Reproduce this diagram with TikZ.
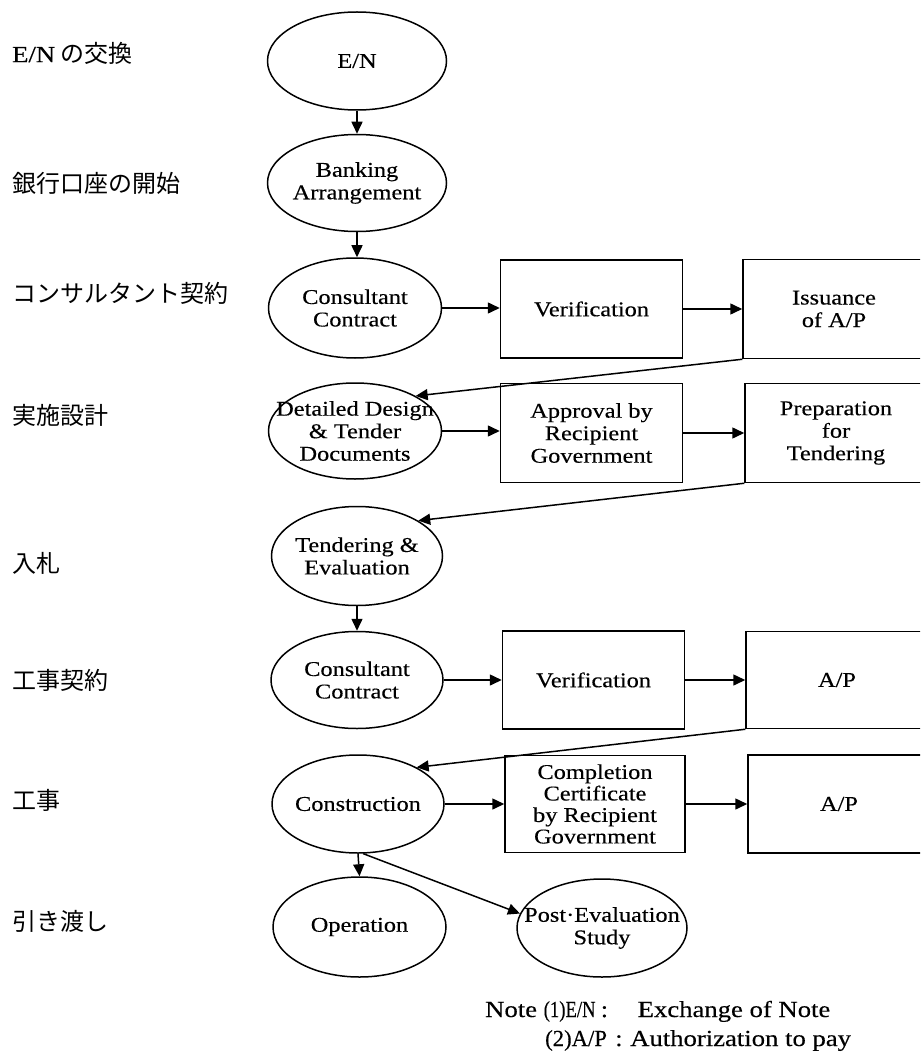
\documentclass[tikz,border=0pt]{standalone}
\usepackage{fontspec}
\usepackage{graphicx}
\setmainfont{Liberation Serif}[FakeStretch=1.16,FakeBold=0.3]
\newfontfamily\cjk{Noto Sans CJK JP}
\usetikzlibrary{shapes.geometric,arrows.meta,calc}
\begin{document}
\begin{tikzpicture}[x=1pt,y=-1pt,
  every node/.style={font=\fontsize{21}{22.5}\selectfont, align=center, inner sep=0pt},
  oval/.style={draw, ellipse, line width=1.5pt, inner xsep=-25pt, inner ysep=-12pt},
  box/.style={draw, rectangle, line width=1.5pt, minimum width=182pt},
  lab/.style={anchor=west, font=\fontsize{24}{24}\selectfont\cjk},
  note/.style={anchor=base west, font=\fontsize{23}{23}\selectfont},
  arr/.style={line width=1.5pt, -{Triangle[length=12pt,width=11pt]}},
]
\useasboundingbox (0,0) rectangle (920,1059);
\clip (0,0) rectangle (920,1059);
\fill[white] (0,0) rectangle (920,1059);

% left labels
\node[lab] (L1) at (12,53) {{\rmfamily\fontsize{23}{23}\selectfont E/N} の交換};
\node[lab] (L2) at (12,183) {銀行口座の開始};
\node[lab] (L3) at (12,293) {コンサルタント契約};
\node[lab] (L4) at (12,415) {実施設計};
\node[lab] (L5) at (12,563) {入札};
\node[lab] (L6) at (12,680) {工事契約};
\node[lab] (L7) at (12,800) {工事};
\node[lab] (L8) at (12,921) {引き渡し};

% ellipses
\node[oval, minimum width=179pt, minimum height=98pt] (EN) at (357,61) {E/N};
\node[oval, minimum width=179pt, minimum height=97pt] (BA) at (357,183) {Banking\\Arrangement};
\node[oval, minimum width=173pt, minimum height=100pt] (CC1) at (355,308) {Consultant\\Contract};
\node[oval, minimum width=173pt, minimum height=96pt] (DD) at (355,431) {Detailed Design\\\& Tender\\Documents};
\node[oval, minimum width=171pt, minimum height=99pt] (TE) at (357,556) {Tendering \&\\Evaluation};
\node[oval, minimum width=172pt, minimum height=97pt] (CC2) at (357,680) {Consultant\\Contract};
\node[oval, minimum width=172pt, minimum height=98pt] (CO) at (358,804) {Construction};
\node[oval, minimum width=173pt, minimum height=100pt] (OP) at (359.5,927) {Operation};
\node[oval, minimum width=170pt, minimum height=98pt] (PE) at (602,928) {Post·Evaluation\\Study};

% boxes
\node[box, minimum height=98pt] (V1) at (591.5,309) {Verification};
\node[box, minimum height=99pt] (IS) at (834,309) {Issuance\\of A/P};
\node[box, minimum height=99pt] (AB) at (591.5,433) {Approval by\\Recipient\\Government};
\node[box, minimum height=99pt] (PR) at (836,433) {Preparation\\for\\Tendering};
\node[box, minimum height=98pt] (V2) at (593.5,680) {Verification};
\node[box, minimum height=97pt] (AP1) at (837,680) {A/P};
\node[box, minimum height=97pt, minimum width=180pt, font=\fontsize{21}{21.5}\selectfont] (CM) at (595,804) {Completion\\Certificate\\by Recipient\\Government};
\node[box, minimum height=98pt] (AP2) at (839,804) {A/P};

% connectors
\draw[arr] (EN.south) -- (BA.north);
\draw[arr] (BA.south) -- (BA.south |- CC1.north);
\draw[arr] (CC1.east) -- (CC1.east -| V1.west);
\draw[arr] (V1.east) -- (V1.east -| IS.west);
\draw[arr] (IS.south west) -- (DD.30);
\draw[arr] (DD.east) -- (DD.east -| AB.west);
\draw[arr] (AB.east) -- (AB.east -| PR.west);
\draw[arr] (PR.south west) -- (TE.30);
\draw[arr] (TE.south) -- (CC2.north);
\draw[arr] (CC2.east) -- (CC2.east -| V2.west);
\draw[arr] (V2.east) -- (V2.east -| AP1.west);
\draw[arr] (AP1.south west) -- (CO.32);
\draw[arr] (CO.east) -- (CO.east -| CM.west);
\draw[arr] (CM.east) -- (CM.east -| AP2.west);
\draw[arr] (CO.south) -- (OP.north);
\draw[arr] (CO.-84) -- (PE.170);

% notes
\node[note] (N1) at (485,1017) {Note \makebox[57pt][l]{\scalebox{0.7}[1]{(1)E/N}}\makebox[37pt][l]{:}Exchange of Note};
\node[note] (N2) at (545,1046) {\makebox[70pt][l]{\scalebox{0.85}[1]{(2)A/P}}\makebox[15pt][l]{:}Authorization to pay};
\end{tikzpicture}
\end{document}
